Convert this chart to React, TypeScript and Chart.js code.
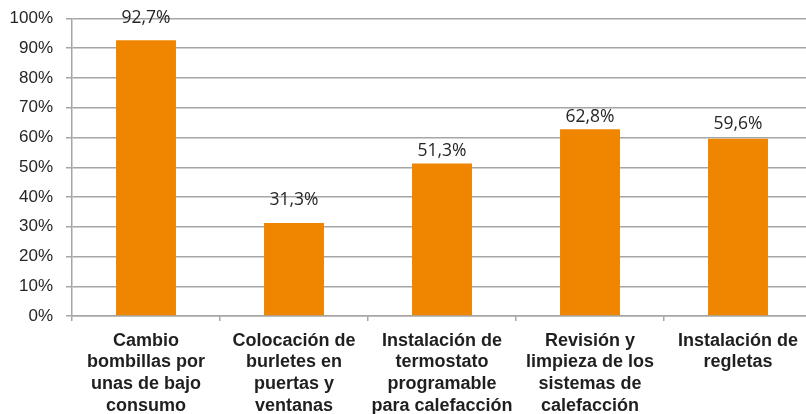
import React, { useEffect, useRef } from "react";
import { Chart, registerables } from "chart.js";

Chart.register(...registerables);

const categories: string[][] = [
  ["Cambio", "bombillas por", "unas de bajo", "consumo"],
  ["Colocación de", "burletes en", "puertas y", "ventanas"],
  ["Instalación de", "termostato", "programable", "para calefacción"],
  ["Revisión y", "limpieza de los", "sistemas de", "calefacción"],
  ["Instalación de", "regletas"],
];
const values: number[] = [92.7, 31.3, 51.3, 62.8, 59.6];
const yTicks: number[] = [0, 10, 20, 30, 40, 50, 60, 70, 80, 90, 100];

const fmt = (v: number) => v.toFixed(1).replace(".", ",") + "%";

// vertical gap (px) between each bar top and the centre of its value label
const labelGaps: number[] = [22, 22.5, 12.6, 12.6, 14.7];

const valueLabels = {
  id: "valueLabels",
  afterDatasetsDraw(chart: any) {
    const ctx = chart.ctx;
    const meta = chart.getDatasetMeta(0);
    ctx.save();
    ctx.font = "17.5px 'Open Sans'";
    ctx.fillStyle = "#262626";
    ctx.textAlign = "center";
    ctx.textBaseline = "middle";
    meta.data.forEach((bar: any, i: number) => {
      ctx.fillText(fmt(values[i]), bar.x, bar.y - labelGaps[i]);
    });
    ctx.restore();
  },
};

export default function App() {
  const ref = useRef<HTMLCanvasElement>(null);
  useEffect(() => {
    document.body.style.margin = "0";
    const chart = new Chart(ref.current!, {
      type: "bar",
      data: {
        labels: categories,
        datasets: [
          {
            data: values,
            backgroundColor: "#F08600",
            barPercentage: 0.405,
            categoryPercentage: 1,
          },
        ],
      },
      options: {
        responsive: false,
        animation: false,
        devicePixelRatio: 1,
        layout: { padding: { top: 18.5, right: 0, left: 0, bottom: 0 } },
        plugins: { legend: { display: false }, tooltip: { enabled: false } },
        scales: {
          x: {
            offset: true,
            grid: {
              display: true,
              drawOnChartArea: false,
              offset: true,
              tickLength: 5,
              color: "#A6A6A6",
              lineWidth: 1.5,
            },
            border: { color: "#A6A6A6", width: 1.5 },
            ticks: {
              maxRotation: 0,
              autoSkip: false,
              padding: 9,
              color: "#1F1F1F",
              font: { family: "'Liberation Sans', Arial", size: 18, weight: "bold", lineHeight: 1.2 },
            },
            afterFit: (s: any) => {
              s.height = 98;
              s.paddingLeft = 0;
              s.paddingRight = 0;
            },
          },
          y: {
            min: 0,
            max: 100,
            afterBuildTicks: (s: any) => {
              s.ticks = yTicks.map((v) => ({ value: v }));
            },
            grid: { color: "#A6A6A6", lineWidth: 1.5, tickLength: 6 },
            border: { color: "#A6A6A6", width: 1.5 },
            ticks: {
              padding: 13,
              color: "#262626",
              font: { family: "'Liberation Sans', Arial", size: 17 },
              callback: (v: any) => v + "%",
            },
            afterFit: (s: any) => {
              s.width = 72;
              s.paddingTop = 0;
              s.paddingBottom = 0;
            },
          },
        },
      },
      plugins: [valueLabels],
    });
    return () => chart.destroy();
  }, []);
  return (
    <div style={{ position: "absolute", left: 0, top: 0, width: 806, height: 414, overflow: "hidden", background: "#fff" }}>
      <canvas ref={ref} width={812} height={414} style={{ width: 812, height: 414, display: "block" }} />
    </div>
  );
}
